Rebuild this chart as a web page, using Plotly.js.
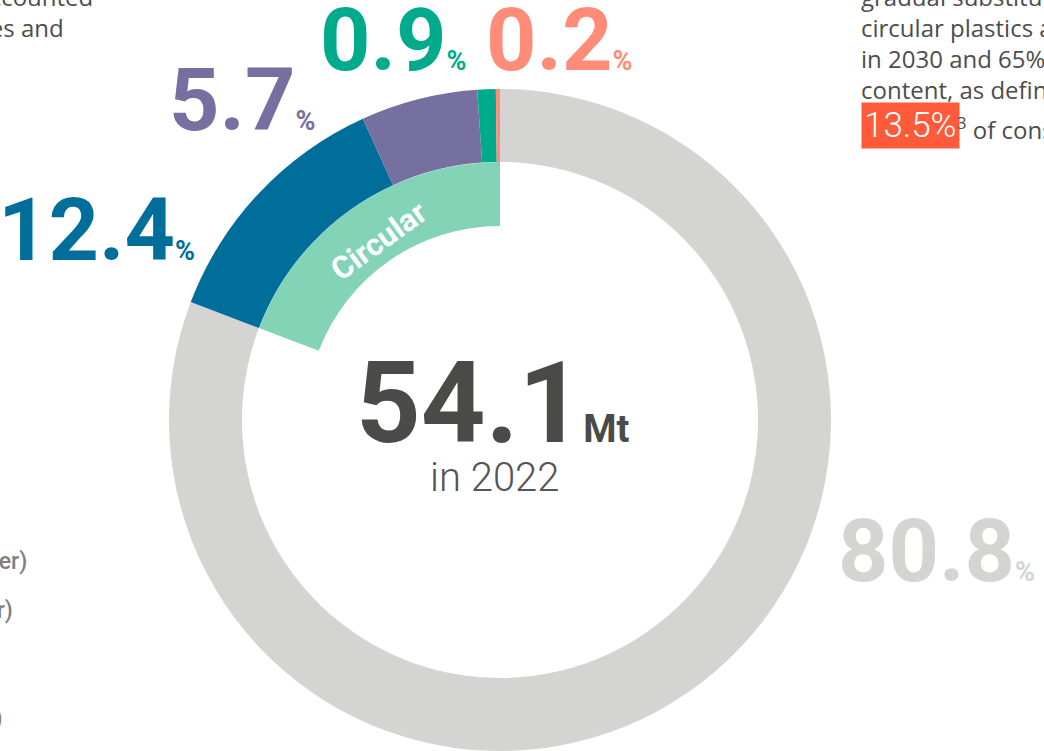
<!DOCTYPE html>
<html>
<head>
<meta charset="utf-8">
<script src="https://cdn.plot.ly/plotly-3.0.1.min.js"></script>
<style>
  html, body { margin: 0; padding: 0; background: #ffffff; }
  #chart { width: 1044px; height: 751px; }
</style>
</head>
<body>
<div id="chart"></div>
<script>
// ---- data ----
const categories = ['Fossil-based (virgin)', 'Post-consumer recycled', 'Pre-consumer recycled', 'Bio-based', 'Chemically recycled'];
const shares = [80.8, 12.4, 5.7, 0.9, 0.2];          // % of 54.1 Mt
const sliceColors = ['#d4d4d2', '#006e9b', '#75709f', '#00ab8c', '#ff8c78'];
const totalMt = '54.1';
const totalUnit = 'Mt';
const yearLabel = 'in 2022';
const ringLabels = ['Non-circular', 'Circular'];
const circularColor = '#83d3b7';
const highlightValue = '13.5%';

// circular share = sum of the non-virgin slices
const circularShare = shares.slice(1).reduce((a, b) => a + b, 0);
const ringValues = [100 - circularShare, circularShare];

// ---- geometry helpers (pixel -> paper) ----
const W = 1044, H = 751;
const X = p => p / W;
const Y = p => 1 - p / H;
const cx = 500, cy = 420, rOut = 331, rMid = 258, rIn = 194;

const traces = [
  {
    type: 'pie',
    labels: categories,
    values: shares,
    sort: false,
    direction: 'clockwise',
    rotation: 0,
    hole: rMid / rOut,
    marker: { colors: sliceColors, line: { width: 0 } },
    textinfo: 'none',
    hoverinfo: 'label+percent',
    showlegend: false,
    domain: { x: [X(cx - rOut), X(cx + rOut)], y: [Y(cy + rOut), Y(cy - rOut)] }
  },
  {
    type: 'pie',
    labels: ringLabels,
    values: ringValues,
    sort: false,
    direction: 'clockwise',
    rotation: 0,
    hole: rIn / rMid,
    marker: { colors: ['rgba(0,0,0,0)', circularColor], line: { width: 0 } },
    textinfo: 'none',
    hoverinfo: 'skip',
    showlegend: false,
    domain: { x: [X(cx - rMid), X(cx + rMid)], y: [Y(cy + rMid), Y(cy - rMid)] }
  }
];

const numFont = 'Roboto, Arial, sans-serif';
const bodyFamily = '"Open Sans", Roboto, sans-serif';
const pct = (v, size) => v.toFixed(1) + '<span style="font-size:' + size + 'px">%</span>';

// label placement (left edge, vertical centre in px), same order as shares
const labelPos = [
  { x: 836, y: 550 },  // 80.8
  { x: -4,  y: 229 },  // 12.4
  { x: 167, y: 99 },   // 5.7
  { x: 318, y: 39 },   // 0.9
  { x: 484, y: 39 }    // 0.2
];

const annotations = [];
shares.forEach((v, i) => {
  annotations.push({
    xref: 'paper', yref: 'paper', x: X(labelPos[i].x), y: Y(labelPos[i].y),
    xanchor: 'left', yanchor: 'middle', showarrow: false,
    text: pct(v, 27),
    font: { family: numFont, size: 88, color: sliceColors[i], weight: 700 }
  });
});

// centre total
annotations.push({
  xref: 'paper', yref: 'paper', x: X(354), y: Y(403),
  xanchor: 'left', yanchor: 'middle', showarrow: false,
  text: totalMt + '<span style="font-size:38px">' + totalUnit + '</span>',
  font: { family: numFont, size: 113, color: '#4a4a48', weight: 700 }
});
annotations.push({
  xref: 'paper', yref: 'paper', x: X(494), y: Y(477),
  xanchor: 'center', yanchor: 'middle', showarrow: false,
  text: yearLabel,
  font: { family: numFont, size: 40, color: '#555555', weight: 300 }
});

// Circular ring label
annotations.push({
  xref: 'paper', yref: 'paper', x: X(378), y: Y(241),
  xanchor: 'center', yanchor: 'middle', showarrow: false,
  text: ringLabels[1], textangle: -36,
  font: { family: numFont, size: 31, color: '#ffffff', weight: 700 }
});

// clipped surrounding paragraph text
const bodyFont = { family: bodyFamily, size: 24, color: '#4d4d4d', weight: 400 };
const rightLines = ['gradual substitution of', 'circular plastics and', 'in 2030 and 65% by 2050', 'content, as defined by'];
const rightBase = [5, 36, 67, 98];
rightLines.forEach((t, i) => {
  annotations.push({
    xref: 'paper', yref: 'paper', x: X(859), y: Y(rightBase[i] - 8.5),
    xanchor: 'left', yanchor: 'middle', showarrow: false, align: 'left',
    text: t, font: bodyFont
  });
});
annotations.push({
  xref: 'paper', yref: 'paper', x: X(861), y: Y(125.5),
  xanchor: 'left', yanchor: 'middle', showarrow: false,
  text: highlightValue, bgcolor: '#ff5a3a', borderpad: 2,
  font: { family: numFont, size: 35, color: '#ffffff', weight: 300 }
});
annotations.push({
  xref: 'paper', yref: 'paper', x: X(955), y: Y(137 - 8.5),
  xanchor: 'left', yanchor: 'middle', showarrow: false,
  text: '<sup>3</sup> of consumption', font: bodyFont
});

const leftTop = [['has been accounted', 5, 95], ['processes and', 36, 66]];
leftTop.forEach(([t, b, r]) => {
  annotations.push({
    xref: 'paper', yref: 'paper', x: X(r), y: Y(b - 8.5),
    xanchor: 'right', yanchor: 'middle', showarrow: false,
    text: t, font: bodyFont
  });
});

const legendFont = { family: numFont, size: 23, color: '#808080', weight: 500 };
const leftBottom = [['Mechanical recycling (post-consumer)', 561, 29], ['Mechanical recycling (pre-consumer)', 610, 15], ['Bio-based (bio-attributed)', 718, 4]];
leftBottom.forEach(([t, c, r]) => {
  annotations.push({
    xref: 'paper', yref: 'paper', x: X(r), y: Y(c),
    xanchor: 'right', yanchor: 'middle', showarrow: false,
    text: t, font: legendFont
  });
});

const layout = {
  width: W, height: H,
  margin: { l: 0, r: 0, t: 0, b: 0 },
  paper_bgcolor: '#ffffff',
  showlegend: false,
  annotations: annotations
};

Plotly.newPlot('chart', traces, layout, { displayModeBar: false, staticPlot: true });
</script>
</body>
</html>
